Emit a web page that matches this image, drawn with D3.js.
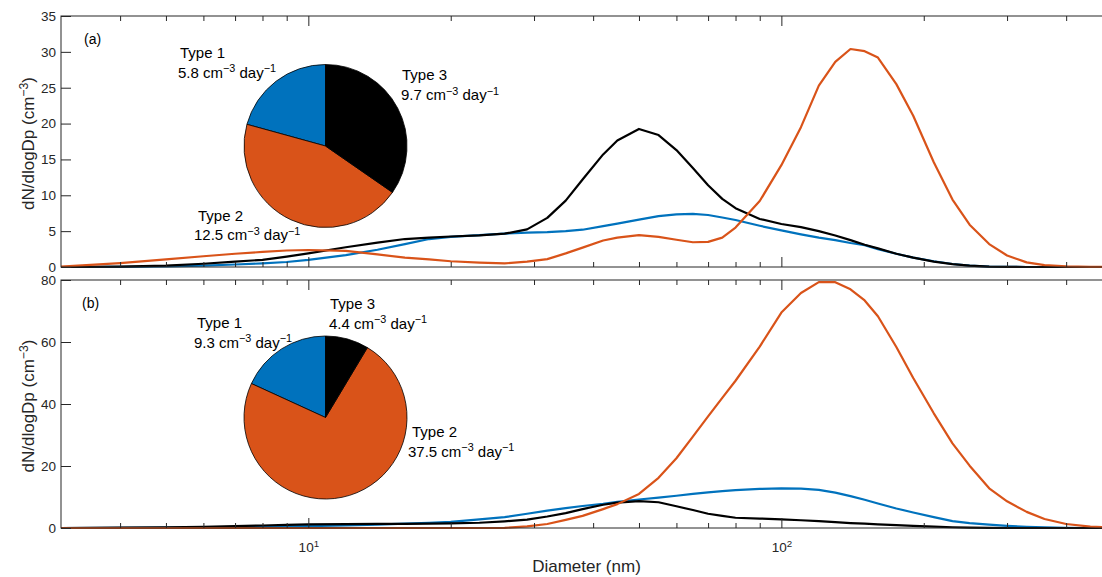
<!DOCTYPE html>
<html>
<head>
<meta charset="utf-8">
<script src="https://cdn.jsdelivr.net/npm/d3@7"></script>
<style>
  body { margin: 0; background: #fff; }
  svg { display: block; }
  text { font-family: "Liberation Sans", Arial, Helvetica, sans-serif; }
</style>
</head>
<body>
<svg id="chart" width="1102" height="577"></svg>
<script>
// size distributions of the three particle types, dN/dlogDp (cm^-3)
var diameters = [3, 4, 5, 6, 7, 8, 9, 10, 12, 14, 16, 18, 20, 23, 26, 29, 32, 35, 38, 42,
                 45, 50, 55, 60, 65, 70, 75, 80, 90, 100, 110, 120, 130, 140, 150, 160, 175, 190,
                 210, 230, 250, 275, 300, 330, 360, 400, 450, 500];

// panel (a)
var aType1 = [0, 0.02, 0.08, 0.2, 0.35, 0.5, 0.7, 1.0, 1.65, 2.4, 3.2, 3.9, 4.2, 4.45, 4.65, 4.8, 4.85, 5.0, 5.2, 5.7,
              6.05, 6.6, 7.1, 7.35, 7.4, 7.25, 6.9, 6.55, 5.75, 5.1, 4.55, 4.1, 3.75, 3.35, 3.05, 2.5, 1.85, 1.3,
              0.8, 0.42, 0.2, 0.06, 0.02, 0, 0, 0, 0, 0];
var aType2 = [0.05, 0.55, 1.05, 1.5, 1.85, 2.1, 2.3, 2.37, 2.25, 1.75, 1.3, 1.05, 0.8, 0.6, 0.5, 0.74, 1.1, 1.9, 2.7, 3.7,
              4.1, 4.45, 4.2, 3.8, 3.45, 3.5, 4.1, 5.5, 9.2, 14.2, 19.5, 25.3, 28.6, 30.4, 30.1, 29.2, 25.5, 21.1,
              14.6, 9.4, 5.9, 3.2, 1.6, 0.65, 0.25, 0.08, 0.02, 0];
var aType3 = [0, 0.05, 0.2, 0.45, 0.75, 1.0, 1.45, 1.9, 2.75, 3.4, 3.9, 4.1, 4.25, 4.4, 4.65, 5.25, 6.85, 9.25, 12.2, 15.7,
              17.65, 19.25, 18.4, 16.3, 13.8, 11.4, 9.5, 8.2, 6.7, 6.0, 5.55, 5.0, 4.4, 3.75, 3.1, 2.6, 1.85, 1.3,
              0.75, 0.4, 0.2, 0.06, 0.02, 0, 0, 0, 0, 0];

// panel (b)
var bType1 = [0, 0.05, 0.1, 0.2, 0.3, 0.4, 0.5, 0.6, 0.85, 1.1, 1.4, 1.7, 2.0, 2.8, 3.5, 4.6, 5.6, 6.4, 7.1, 7.8,
              8.4, 9.2, 9.8, 10.4, 11.0, 11.5, 11.9, 12.2, 12.6, 12.8, 12.7, 12.3, 11.4, 10.3, 9.1, 7.9, 6.3, 5.0,
              3.5, 2.2, 1.6, 1.1, 0.7, 0.38, 0.2, 0.05, 0, 0];
var bType2 = [0, 0, 0, 0, 0, 0, 0, 0, 0, 0, 0, 0, 0, 0, 0.05, 0.5, 1.3, 2.6, 3.9, 6.1,
              7.7, 11.0, 16.2, 22.5, 29.5, 36.0, 42.0, 47.5, 58.5, 69.5, 75.8, 79.3, 79.3, 77.0, 73.4, 68.3, 58.4, 48.4,
              37.0, 27.3, 20.1, 12.8, 8.6, 5.2, 2.9, 1.3, 0.45, 0.15];
var bType3 = [0, 0.1, 0.25, 0.4, 0.6, 0.8, 1.0, 1.15, 1.25, 1.3, 1.35, 1.4, 1.5, 1.7, 2.15, 2.7, 3.7, 4.8, 6.1, 7.5,
              8.2, 8.7, 8.3, 7.0, 5.8, 4.6, 3.9, 3.3, 3.05, 2.8, 2.5, 2.2, 1.9, 1.6, 1.4, 1.2, 0.9, 0.7,
              0.45, 0.25, 0.15, 0.05, 0, 0, 0, 0, 0, 0];

// formation rates shown in the pies (cm^-3 day^-1)
var typeNames = ['Type 1', 'Type 2', 'Type 3'];
var aRates = [5.8, 12.5, 9.7];
var bRates = [9.3, 37.5, 4.4];

var aYTicks = [0, 5, 10, 15, 20, 25, 30, 35];
var bYTicks = [0, 20, 40, 60, 80];
var xMajorTicks = [10, 100];
var xMinorTicks = [4, 5, 6, 7, 8, 9, 20, 30, 40, 50, 60, 70, 80, 90, 200, 300, 400];

var colors = ['#0072BD', '#D95319', '#000000'];
var axisColor = '#262626';

var svg = d3.select('#chart');

// the right side of the axes box falls just outside the window
var x = d3.scaleLog().domain([3, 500]).range([61, 1112]);

// writes [text, isSuperscript] pieces into a text element
function richText(text, parts) {
  var raised = false;
  parts.forEach(function(part) {
    var ts = text.append('tspan').text(part[0]);
    if (part[1] && !raised) ts.attr('dy', -5.5);
    if (!part[1] && raised) ts.attr('dy', 5.5);
    if (part[1]) ts.attr('font-size', '0.72em');
    raised = part[1];
  });
}

function drawPanel(p) {
  var y = d3.scaleLinear().domain([0, p.yMax]).range([p.bottom, p.top]);
  var g = svg.append('g');

  // curves (blue, black, then orange on top)
  var line = d3.line()
    .x(function(d, i) { return x(diameters[i]); })
    .y(function(d) { return y(d); });

  [0, 2, 1].forEach(function(k) {
    g.append('path')
      .datum(p.series[k])
      .attr('d', line)
      .attr('fill', 'none')
      .attr('stroke', colors[k])
      .attr('stroke-width', 2.2)
      .attr('stroke-linejoin', 'round');
  });

  // box
  g.append('rect')
    .attr('x', x(3)).attr('y', p.top)
    .attr('width', x(500) - x(3)).attr('height', p.bottom - p.top)
    .attr('fill', 'none')
    .attr('stroke', axisColor)
    .attr('stroke-width', 1);

  // x ticks, inward, on bottom and top
  var xb = g.append('g').attr('transform', 'translate(0,' + p.bottom + ')');
  xb.append('g').call(d3.axisBottom(x).tickValues(xMinorTicks).tickSize(-5).tickFormat(''));
  var xbMaj = xb.append('g').call(d3.axisBottom(x).tickValues(xMajorTicks).tickSize(-10).tickFormat(''));

  var xt = g.append('g').attr('transform', 'translate(0,' + p.top + ')');
  xt.append('g').call(d3.axisTop(x).tickValues(xMinorTicks).tickSize(-5).tickFormat(''));
  xt.append('g').call(d3.axisTop(x).tickValues(xMajorTicks).tickSize(-10).tickFormat(''));

  if (p.xLabels) {
    xbMaj.selectAll('.tick').append('text')
      .attr('y', 24)
      .attr('text-anchor', 'middle')
      .attr('fill', axisColor)
      .attr('font-size', 13.5)
      .each(function(d) {
        richText(d3.select(this), [['10', false], [String(Math.round(Math.log10(d))), true]]);
      });
  }

  // y ticks
  var ya = g.append('g')
    .attr('transform', 'translate(' + x(3) + ',0)')
    .call(d3.axisLeft(y).tickValues(p.yTicks).tickSize(-10).tickPadding(5));
  ya.selectAll('text').attr('font-size', 13.5).attr('fill', axisColor);

  g.selectAll('.domain').remove();
  g.selectAll('.tick line').attr('stroke', axisColor).attr('stroke-width', 1);

  // y label
  var yl = g.append('text')
    .attr('transform', 'translate(33.5,' + ((p.top + p.bottom) / 2 + 2) + ') rotate(-90)')
    .attr('text-anchor', 'middle')
    .attr('font-size', 17)
    .attr('fill', axisColor);
  richText(yl, [['dN/dlogDp (cm', false], ['\u22123', true], [')', false]]);

  // panel tag
  g.append('text')
    .attr('x', p.tagX).attr('y', p.tagY)
    .attr('font-size', 14)
    .attr('fill', '#000')
    .text(p.tag);

  // pie of formation rates, counter-clockwise from 12 o'clock
  var pie = d3.pie().sort(null).startAngle(0).endAngle(-2 * Math.PI);
  var arc = d3.arc().innerRadius(0).outerRadius(p.pieR);
  g.append('g')
    .attr('transform', 'translate(' + p.pieX + ',' + p.pieY + ')')
    .selectAll('path')
    .data(pie(p.rates))
    .join('path')
    .attr('d', arc)
    .attr('fill', function(d, i) { return colors[i]; })
    .attr('stroke', '#000')
    .attr('stroke-width', 0.8);

  // pie labels
  p.rates.forEach(function(v, i) {
    var pos = p.labelPos[i];
    g.append('text')
      .attr('x', pos[0]).attr('y', pos[1])
      .attr('font-size', 15)
      .attr('fill', '#000')
      .text(typeNames[i]);
    var t = g.append('text')
      .attr('x', pos[2]).attr('y', pos[3])
      .attr('font-size', 15)
      .attr('fill', '#000');
    richText(t, [[v.toFixed(1) + ' cm', false], ['\u22123', true], [' day', false], ['\u22121', true]]);
  });
}

drawPanel({
  top: 16, bottom: 267, yMax: 35, yTicks: aYTicks,
  series: [aType1, aType2, aType3], rates: aRates,
  tag: '(a)', tagX: 84, tagY: 44,
  pieX: 325.5, pieY: 146, pieR: 81.5,
  labelPos: [[180, 57.5, 178, 77.5], [198, 220.5, 194, 240], [402, 80, 401, 100]],
  xLabels: false
});

drawPanel({
  top: 280, bottom: 528, yMax: 80, yTicks: bYTicks,
  series: [bType1, bType2, bType3], rates: bRates,
  tag: '(b)', tagX: 82, tagY: 308,
  pieX: 325.5, pieY: 417.5, pieR: 81.5,
  labelPos: [[197, 327.5, 194, 347.5], [412, 436.5, 408, 456.5], [330, 308.5, 329, 328.5]],
  xLabels: true
});

// x label
svg.append('text')
  .attr('x', (x(3) + x(500)) / 2)
  .attr('y', 571.5)
  .attr('text-anchor', 'middle')
  .attr('font-size', 17)
  .attr('fill', axisColor)
  .text('Diameter (nm)');
</script>
</body>
</html>
